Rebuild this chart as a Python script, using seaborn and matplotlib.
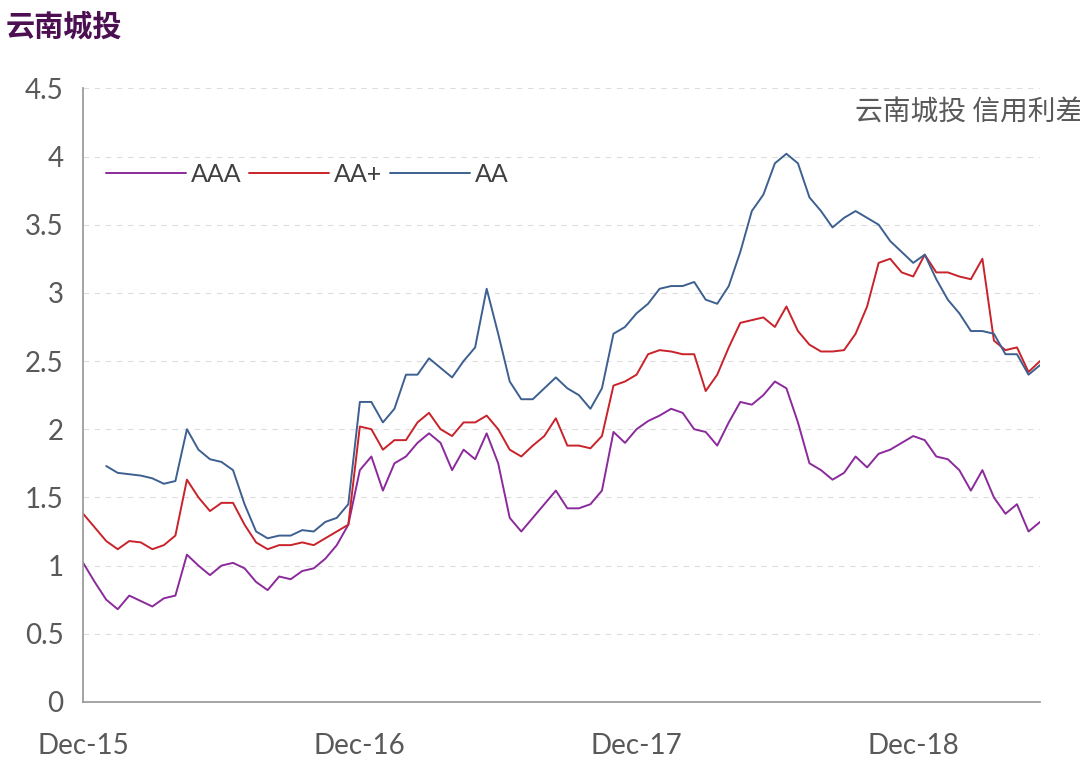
import numpy as np
import pandas as pd
import matplotlib
matplotlib.use("Agg")
import matplotlib.pyplot as plt
import seaborn as sns

# semi-monthly observations starting Dec-2015
aaa = [1.02, 0.88, 0.75, 0.68, 0.78, 0.74, 0.70, 0.76, 0.78, 1.08, 1.00, 0.93,
       1.00, 1.02, 0.98, 0.88, 0.82, 0.92, 0.90, 0.96, 0.98, 1.05, 1.15, 1.30,
       1.70, 1.80, 1.55, 1.75, 1.80, 1.90, 1.97, 1.90, 1.70, 1.85, 1.78, 1.97,
       1.75, 1.35, 1.25, 1.35, 1.45, 1.55, 1.42, 1.42, 1.45, 1.55, 1.98, 1.90,
       2.00, 2.06, 2.10, 2.15, 2.12, 2.00, 1.98, 1.88, 2.05, 2.20, 2.18, 2.25,
       2.35, 2.30, 2.05, 1.75, 1.70, 1.63, 1.68, 1.80, 1.72, 1.82, 1.85, 1.90,
       1.95, 1.92, 1.80, 1.78, 1.70, 1.55, 1.70, 1.50, 1.38, 1.45, 1.25, 1.32]
aa_plus = [1.38, 1.28, 1.18, 1.12, 1.18, 1.17, 1.12, 1.15, 1.22, 1.63, 1.50, 1.40,
           1.46, 1.46, 1.30, 1.17, 1.12, 1.15, 1.15, 1.17, 1.15, 1.20, 1.25, 1.30,
           2.02, 2.00, 1.85, 1.92, 1.92, 2.05, 2.12, 2.00, 1.95, 2.05, 2.05, 2.10,
           2.00, 1.85, 1.80, 1.88, 1.95, 2.08, 1.88, 1.88, 1.86, 1.95, 2.32, 2.35,
           2.40, 2.55, 2.58, 2.57, 2.55, 2.55, 2.28, 2.40, 2.60, 2.78, 2.80, 2.82,
           2.75, 2.90, 2.72, 2.62, 2.57, 2.57, 2.58, 2.70, 2.90, 3.22, 3.25, 3.15,
           3.12, 3.28, 3.15, 3.15, 3.12, 3.10, 3.25, 2.65, 2.58, 2.60, 2.42, 2.50]
aa = [np.nan, np.nan, 1.73, 1.68, 1.67, 1.66, 1.64, 1.60, 1.62, 2.00, 1.85, 1.78,
      1.76, 1.70, 1.45, 1.25, 1.20, 1.22, 1.22, 1.26, 1.25, 1.32, 1.35, 1.45,
      2.20, 2.20, 2.05, 2.15, 2.40, 2.40, 2.52, 2.45, 2.38, 2.50, 2.60, 3.03,
      2.70, 2.35, 2.22, 2.22, 2.30, 2.38, 2.30, 2.25, 2.15, 2.30, 2.70, 2.75,
      2.85, 2.92, 3.03, 3.05, 3.05, 3.08, 2.95, 2.92, 3.05, 3.30, 3.60, 3.72,
      3.95, 4.02, 3.95, 3.70, 3.60, 3.48, 3.55, 3.60, 3.55, 3.50, 3.38, 3.30,
      3.22, 3.28, 3.10, 2.95, 2.85, 2.72, 2.72, 2.70, 2.55, 2.55, 2.40, 2.47]
tick_labels = ["Dec-15", "Dec-16", "Dec-17", "Dec-18"]

df = pd.DataFrame({"idx": np.arange(len(aaa)), "AAA": aaa, "AA+": aa_plus, "AA": aa})
long = df.melt(id_vars="idx", var_name="series", value_name="spread")

sns.set_theme(style="white")
plt.rcParams["font.family"] = ["Lato", "Noto Sans CJK SC", "DejaVu Sans"]

fig = plt.figure(figsize=(10.8, 7.68), dpi=100)
ax = fig.add_axes([0.077, 0.086, 0.886, 0.799])
palette = {"AAA": "#8B2A9B", "AA+": "#C8222A", "AA": "#3D6090"}
sns.lineplot(data=long, x="idx", y="spread", hue="series", palette=palette,
             linewidth=1.4, ax=ax)

ax.set_xlim(0, len(aaa) - 1)
ax.set_ylim(0, 4.5)
ax.set_yticks(np.arange(0, 4.51, 0.5))
ax.set_yticklabels(["0", "0.5", "1", "1.5", "2", "2.5", "3", "3.5", "4", "4.5"])
ax.set_xticks([0, 24, 48, 72])
ax.set_xticklabels(tick_labels)
ax.tick_params(axis="both", labelsize=20, colors="#595959")
ax.tick_params(axis="y", pad=14, length=0)
ax.tick_params(axis="x", length=6, direction="in", color="#888888", pad=22)
ax.yaxis.grid(True, linestyle=(0, (5, 5)), color="#DDDDDD", linewidth=0.8)
ax.set_xlabel("")
ax.set_ylabel("")
for s in ["top", "right"]:
    ax.spines[s].set_visible(False)
for s in ["left", "bottom"]:
    ax.spines[s].set_color("#999999")

ax.legend(loc="upper left", bbox_to_anchor=(0.0, 0.915), ncol=3, frameon=False,
          fontsize=18, handlelength=3.2, columnspacing=0.3, handletextpad=0.2,
          labelcolor="#404040")
ax.text(1.045, 0.985, "云南城投 信用利差", transform=ax.transAxes, ha="right", va="top",
        fontsize=20, color="#595959", family=["Noto Sans CJK SC"])
fig.text(0.005, 0.985, "云南城投", ha="left", va="top", fontsize=21,
         fontweight="bold", color="#4B0F52", family=["Noto Sans CJK SC"])

fig.savefig("out.png", dpi=100)
